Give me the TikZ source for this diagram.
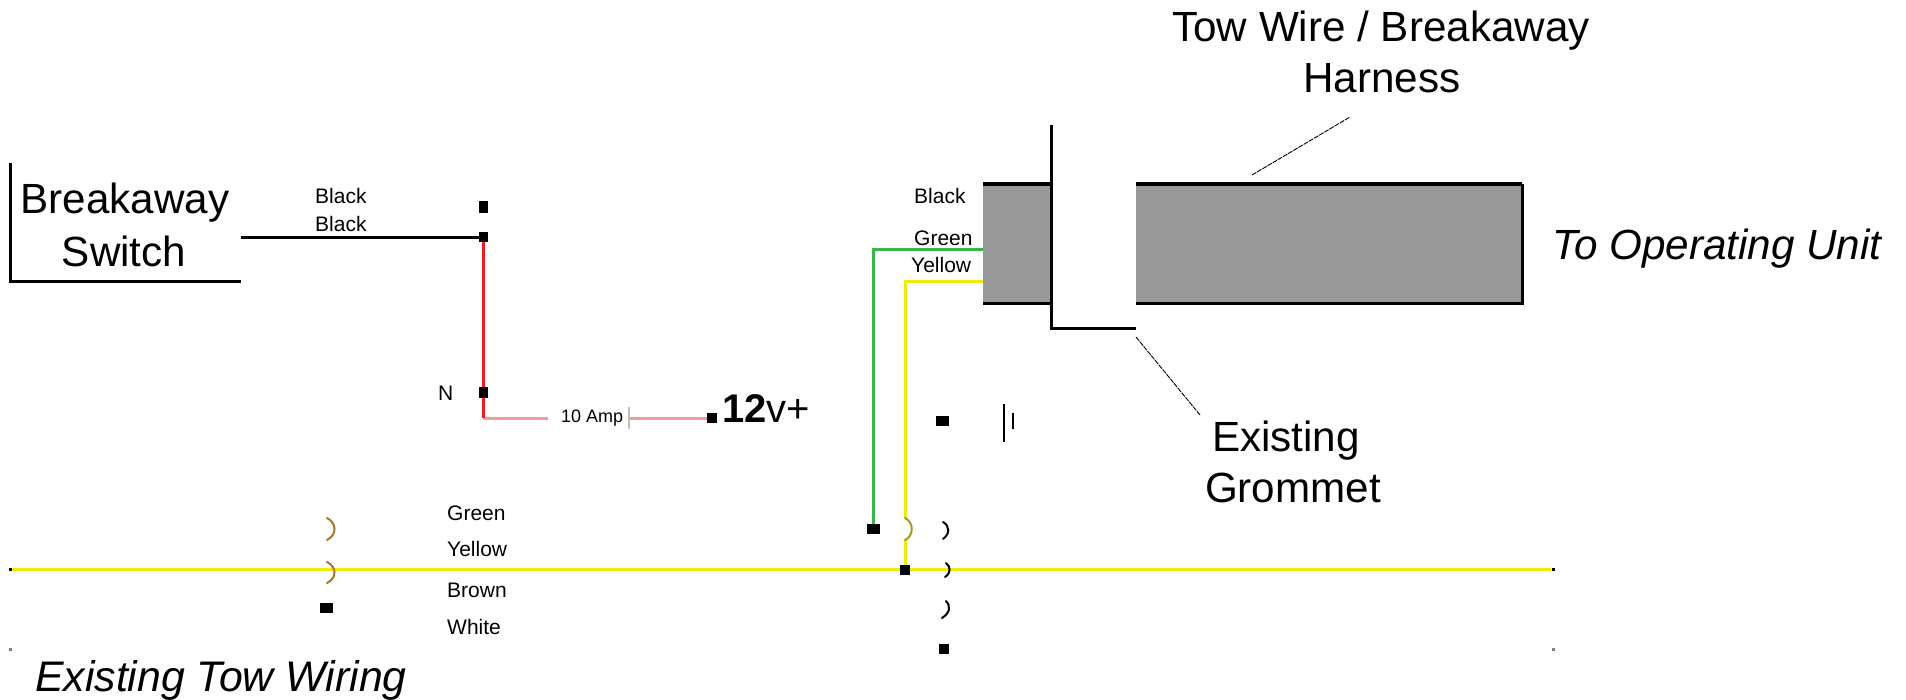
\documentclass[tikz,border=0pt]{standalone}
\usepackage{fontspec}
\usetikzlibrary{backgrounds}
\setmainfont{Liberation Sans}
\definecolor{wireyellow}{HTML}{F2EA0C}
\definecolor{wiregreen}{HTML}{39B54A}
\definecolor{wirered}{HTML}{ED1C24}
\definecolor{wirepink}{HTML}{F59A9A}
\definecolor{wirebrown}{HTML}{A8752A}
\definecolor{jogolive}{HTML}{A39A1E}
\definecolor{harness}{HTML}{999999}
\tikzset{
  bigtext/.style={inner sep=0pt,anchor=base,font=\fontsize{42.2}{42.2}\selectfont},
  bigital/.style={inner sep=0pt,anchor=base west,font=\fontsize{42.2}{42.2}\selectfont\itshape},
  smalltext/.style={inner sep=0pt,anchor=base west,font=\fontsize{21}{21}\selectfont},
  term/.style={fill=black,inner sep=0pt,minimum width=#1,minimum height=10pt},
  term/.default=10pt,
  edge3/.style={draw=black,line width=3pt},
  edge4/.style={draw=black,line width=4pt},
  wire/.style={line width=3pt},
  leader/.style={draw=black,line width=0.9pt,dash pattern=on 5pt off 1pt},
  jog/.style={line width=2pt,line cap=round},
  speck/.style={fill=#1,inner sep=0pt,minimum size=3pt},
}
\begin{document}
\begin{tikzpicture}[x=1pt,y=-1pt]
\useasboundingbox (0,0) rectangle (1906,700);
% text
\node[bigtext] (sw1) at (125,214) {Breakaway};
\node[bigtext] (sw2) at (124,267) {Switch};
\node[bigtext] (tw1) at (1381,42) {Tow Wire / Breakaway};
\node[bigtext] (tw2) at (1382,93) {Harness};
\node[bigtext] (gr1) at (1286,451) {Existing};
\node[bigtext] (gr2) at (1293,502) {Grommet};
\node[bigital] (op) at (1552,260) {To Operating Unit};
\node[bigital,font=\fontsize{42.8}{42.8}\selectfont\itshape] (ex) at (35,691) {Existing Tow Wiring};
\node[inner sep=0pt,anchor=base west,font=\fontsize{40}{40}\selectfont] (volt) at (722,422) {\textbf{12}v+};
\node[smalltext] (lb1) at (315,204) {Black};
\node[smalltext] (lb2) at (315,232) {Black};
\node[smalltext] (rb) at (914,204) {Black};
\node[smalltext] (rg) at (914,246) {Green};
\node[smalltext] (ry) at (911,273) {Yellow};
\node[smalltext] (tg) at (447,520) {Green};
\node[smalltext] (ty) at (447,556) {Yellow};
\node[smalltext] (tbr) at (447,597) {Brown};
\node[smalltext] (tw) at (447,634) {White};
\node[smalltext] (nn) at (438,401) {N};
\node[inner sep=0pt,anchor=base west,font=\fontsize{18}{18}\selectfont] (amp) at (561,422) {10 Amp};
% terminals
\node[term=9pt,minimum height=12pt] (t1) at (483,207) {};
\node[term=9pt] (t2) at (483,237.5) {};
\node[term=9pt,minimum height=11pt] (t3) at (483,393) {};
\node[term] (t4) at (712,418) {};
\node[term=13pt] (t5) at (942,421) {};
\node[term=13pt] (t6) at (873,529) {};
\node[term=10pt] (t7) at (905,570) {};
\node[term] (t8) at (944,649) {};
\node[term=13pt] (t9) at (326,608) {};
% free ends and bends
\coordinate (swL) at (10.5,163);
\coordinate (swC) at (10.5,282);
\coordinate (swR) at (241,282);
\coordinate (swW) at (241,237.5);
\coordinate (redB) at (483,418);
\coordinate (pinkA) at (548,418);
\coordinate (pinkB) at (629,418);
\coordinate (tickT) at (629,407);
\coordinate (tickB) at (629,429);
\coordinate (gA) at (873,250);
\coordinate (gB) at (983,250);
\coordinate (yA) at (905,282);
\coordinate (yB) at (983,282);
\coordinate (j1) at (905,518);
\coordinate (j2) at (905,540);
\coordinate (busL) at (12,569);
\coordinate (busR) at (1551,569);
\begin{pgfonlayer}{background}
\fill[harness] (983,184) rectangle (1051,304);
\fill[harness] (1136,184) rectangle (1522,304);
\draw[wire,wirepink] (redB) -- (pinkA);
\draw[wire,wirepink] (pinkB) -- (t4.center);
\draw[wire,wirered] (t2.center) -- (redB);
\draw[edge3] (swW) -- (t2.center);
\draw[wire,wireyellow] (busL) -- (busR);
\draw[wire,wiregreen] (gB) -- (gA) -- (t6.center);
\draw[wire,wireyellow] (yB) -- (yA) -- (j1);
\draw[wire,wireyellow] (j2) -- (t7.center);
\end{pgfonlayer}
% switch outline
\draw[edge3] (swL) -- (swC) -- (swR);
\draw[draw=black!25,line width=2pt] (tickT) -- (tickB);
\draw[jog,jogolive] (j1) .. controls (914,522) and (914,536) .. (j2);
% harness outline
\draw[edge4] (983,184) -- (1051,184);
\draw[edge3] (983,304) -- (1051,304);
\draw[edge4] (1136,184) -- (1522,184);
\draw[edge3] (1522,184) -- (1522,304) -- (1136,304);
\draw[edge3] (1051,125) -- (1051,329) -- (1136,329);
% leaders
\coordinate (hl1) at (1252,175);
\coordinate (hl2) at (1350,117);
\coordinate (gl1) at (1136,337);
\coordinate (gl2) at (1200,415);
\draw[leader] (hl1) -- (hl2);
\draw[leader] (gl1) -- (gl2);
% small ticks
\draw[draw=black,line width=2.5pt] (1004,404) -- (1004,442);
\draw[draw=black,line width=2.5pt] (1013,413) -- (1013,429);
% loop marks
\draw[jog,draw=black] (943,522) .. controls (950,526) and (950,534) .. (943,539);
\draw[jog,draw=black] (946,563) .. controls (951,567) and (951,573) .. (945,577);
\draw[jog,draw=black] (946,601) .. controls (951,606) and (950,613) .. (942,618);
\draw[jog,wirebrown] (327,518) .. controls (337,523) and (337,535) .. (327,540);
\draw[jog,wirebrown] (327,562) .. controls (337,567) and (337,578) .. (327,583);
% specks
\node[speck=black] (s1) at (10,569) {};
\node[speck=black] (s2) at (1553,569) {};
\node[speck=black!50] (s3) at (10,649) {};
\node[speck=black!50] (s4) at (1553,649) {};
\end{tikzpicture}
\end{document}
